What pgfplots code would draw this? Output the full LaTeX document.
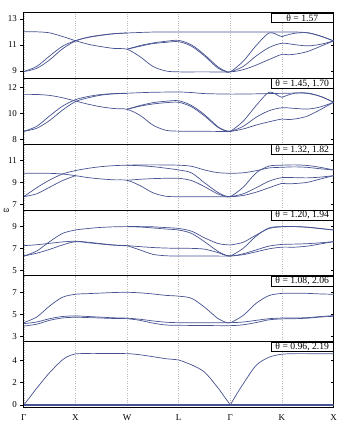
\documentclass[border=0pt]{standalone}
\usepackage{fontspec}
\setmainfont{Liberation Serif}
\usepackage{pgfplots}
\pgfplotsset{compat=1.18}
\usepgfplotslibrary{groupplots}
\usetikzlibrary{calc}
\definecolor{band}{RGB}{70,82,145}
\tikzset{tbox/.style={draw, line width=0.6bp, fill=white, anchor=north east, minimum width=62bp, minimum height=9.8bp, inner sep=0pt, font=\fontsize{9.7}{10}\selectfont}}
\begin{document}
\begin{tikzpicture}
\begin{groupplot}[
  group style={group size=1 by 6, vertical sep=0pt, xticklabels at=edge bottom},
  width=309.8bp, height=65.8bp, scale only axis,
  xmin=0, xmax=6, xtick={0,...,6},
  xticklabels={Γ,X,W,L,Γ,K,X},
  xmajorgrids, grid style={dotted, gray!55, line width=0.4bp},
  axis line style={line width=0.8bp},
  tick align=outside,
  ytick pos=left,
  xtick style={draw=none},
  ytick style={line width=0.5bp, black},
  major tick length=3.5bp,
  tick label style={font=\fontsize{9}{10}\selectfont},
  /pgf/number format/assume math mode=true,
  cycle list={{draw=band, line width=0.7bp, smooth, mark=none}},
  every axis plot post/.append style={draw=band, line width=0.7bp, smooth, mark=none},
  extra y tick labels={},
  extra y tick style={ytick pos=right, tick align=inside, major tick length=3bp},
]
% ---------- panel 1
\nextgroupplot[ymin=8.42, ymax=13.48, ytick={9,11,13}, extra y ticks={9,11,13}]
\coordinate (tl) at (rel axis cs:0,1);
\addplot coordinates {(0,12.02)(0.25,12.01)(0.5,11.93)(0.75,11.65)(1,11.33)(1.25,11.05)(1.5,10.87)(1.75,10.73)(2,10.67)(2.25,10.1)(2.5,9.35)(2.75,9.0)(3,8.93)(3.5,8.93)(4,8.93)(4.25,9.1)(4.5,9.45)(4.75,9.88)(5,10.28)(5.12,10.24)(5.3,10.32)(5.5,10.5)(5.75,10.9)(6,11.31)};
\addplot coordinates {(0,8.95)(0.25,9.35)(0.5,10.15)(0.75,10.9)(1,11.33)(1.25,11.58)(1.5,11.74)(1.75,11.86)(2,11.92)(2.5,11.99)(3,12.0)(3.5,12.0)(4,12.0)(4.5,12.0)(5,12.0)(5.3,11.99)(5.5,11.93)(5.75,11.68)(6,11.31)};
\addplot coordinates {(0,8.95)(0.25,9.2)(0.5,9.85)(0.75,10.7)(1,11.3)(1.25,11.6)(1.5,11.76)(1.75,11.87)(2,11.92)};
\addplot coordinates {(2,10.67)(2.25,10.95)(2.5,11.15)(2.75,11.28)(3,11.35)(3.25,11.0)(3.5,10.25)(3.75,9.35)(3.9,9.0)(4,8.93)(4.25,9.35)(4.5,10.15)(4.75,10.8)(5,11.13)(5.25,11.02)(5.5,10.93)(5.75,11.05)(6,11.31)};
\addplot coordinates {(2,10.67)(2.25,10.9)(2.5,11.1)(2.75,11.2)(3,11.25)(3.25,10.9)(3.5,10.15)(3.75,9.25)(3.9,8.97)(4,8.93)(4.25,9.75)(4.5,10.95)(4.75,11.92)(4.95,11.71)(5,11.64)(5.05,11.71)(5.25,11.9)(5.5,11.94)(5.75,11.68)(6,11.31)};
\node[tbox] at (rel axis cs:1,1) {θ = 1.57};
% ---------- panel 2
\nextgroupplot[ymin=7.62, ymax=12.68, ytick={8,10,12}, extra y ticks={8,10,12}]
\addplot coordinates {(0,11.46)(0.25,11.45)(0.5,11.38)(0.75,11.2)(1,10.95)(1.25,10.7)(1.5,10.5)(1.75,10.37)(2,10.31)(2.25,9.85)(2.5,9.1)(2.75,8.7)(3,8.63)(3.5,8.62)(4,8.62)(4.25,8.8)(4.5,9.1)(4.75,9.35)(5,9.56)(5.12,9.52)(5.3,9.6)(5.5,9.8)(5.75,10.3)(6,10.85)};
\addplot coordinates {(0,8.62)(0.25,9.0)(0.5,9.8)(0.75,10.55)(1,11.05)(1.25,11.3)(1.5,11.45)(1.75,11.52)(2,11.55)(2.5,11.62)(3,11.64)(3.25,11.6)(3.5,11.52)(4,11.48)(4.5,11.5)(5,11.54)(5.3,11.56)(5.5,11.53)(5.75,11.3)(6,10.85)};
\addplot coordinates {(0,8.62)(0.25,8.85)(0.5,9.45)(0.75,10.25)(1,10.9)(1.25,11.2)(1.5,11.4)(1.75,11.5)(2,11.54)};
\addplot coordinates {(2,10.31)(2.25,10.6)(2.5,10.82)(2.75,10.93)(3,10.97)(3.25,10.6)(3.5,9.9)(3.75,9.0)(3.9,8.68)(4,8.62)(4.25,9.0)(4.5,9.7)(4.75,10.2)(5,10.43)(5.25,10.38)(5.5,10.33)(5.75,10.5)(6,10.85)};
\addplot coordinates {(2,10.31)(2.25,10.55)(2.5,10.72)(2.75,10.82)(3,10.85)(3.25,10.5)(3.5,9.8)(3.75,8.95)(3.9,8.66)(4,8.62)(4.25,9.4)(4.5,10.6)(4.75,11.62)(4.95,11.31)(5,11.23)(5.05,11.31)(5.25,11.55)(5.5,11.56)(5.75,11.3)(6,10.85)};
\node[tbox] at (rel axis cs:1,1) {θ = 1.45, 1.70};
% ---------- panel 3
\nextgroupplot[ymin=6.47, ymax=12.45, ytick={7,9,11}, extra y ticks={7,9,11}]
\addplot coordinates {(0,9.82)(0.25,9.82)(0.5,9.81)(0.75,9.75)(1,9.6)(1.25,9.42)(1.5,9.3)(1.75,9.22)(2,9.18)(2.25,8.7)(2.5,8.05)(2.75,7.73)(3,7.69)(3.5,7.69)(4,7.69)(4.25,7.8)(4.5,8.1)(4.75,8.5)(5,8.9)(5.12,8.86)(5.3,8.9)(5.5,9.0)(5.75,9.3)(6,9.6)};
\addplot coordinates {(0,7.69)(0.25,8.5)(0.5,9.2)(0.75,9.75)(1,10.06)(1.25,10.27)(1.5,10.42)(1.75,10.51)(2,10.55)(2.5,10.58)(3,10.55)(3.25,10.45)(3.5,10.12)(3.75,9.88)(4,9.82)(4.25,9.86)(4.5,10.05)(4.75,10.3)(5,10.36)(5.25,10.4)(5.5,10.35)(5.75,10.22)(6,10.12)};
\addplot coordinates {(0,7.69)(0.25,7.95)(0.5,8.55)(0.75,9.15)(1,9.6)};
\addplot coordinates {(2,9.18)(2.25,9.27)(2.5,9.33)(2.75,9.36)(3,9.36)(3.25,9.15)(3.5,8.6)(3.75,7.95)(3.9,7.74)(4,7.69)(4.25,7.95)(4.5,8.5)(4.75,9.1)(5,9.42)(5.25,9.42)(5.5,9.4)(5.75,9.47)(6,9.6)};
\addplot coordinates {(2,10.55)(2.25,10.5)(2.5,10.42)(2.75,10.28)(3,10.12)(3.25,9.85)(3.5,8.95)(3.75,8.1)(3.9,7.76)(4,7.69)(4.25,8.55)(4.5,9.85)(4.75,10.47)(5,10.55)(5.25,10.58)(5.5,10.52)(5.75,10.35)(6,10.12)};
\node[tbox] at (rel axis cs:1,1) {θ = 1.32, 1.82};
% ---------- panel 4
\nextgroupplot[ymin=4.49, ymax=10.47, ytick={5,7,9}, extra y ticks={5,7,9}]
\addplot coordinates {(0,7.24)(0.25,7.32)(0.5,7.45)(0.75,7.58)(1,7.64)(1.25,7.55)(1.5,7.42)(1.75,7.3)(2,7.24)(2.25,7.15)(2.5,7.07)(2.75,7.02)(3,7.0)(3.25,6.99)(3.5,6.92)(3.75,6.62)(3.9,6.37)(4,6.3)(4.25,6.42)(4.5,6.68)(4.75,6.95)(5,7.1)(5.25,7.1)(5.5,7.2)(5.75,7.4)(6,7.6)};
\addplot coordinates {(0,6.3)(0.25,6.75)(0.5,7.6)(0.75,8.35)(1,8.66)(1.25,8.8)(1.5,8.9)(1.75,8.95)(2,8.97)(2.25,8.97)(2.5,8.95)(2.75,8.88)(3,8.8)(3.25,8.55)(3.5,7.95)(3.75,7.45)(3.9,7.33)(4,7.3)(4.25,7.55)(4.5,8.2)(4.75,8.8)(5,8.95)(5.25,8.97)(5.5,8.92)(5.75,8.8)(6,8.66)};
\addplot coordinates {(0,6.3)(0.25,6.55)(0.5,6.9)(0.75,7.3)(1,7.6)(1.25,7.5)(1.5,7.38)(1.75,7.28)(2,7.22)};
\addplot coordinates {(2,7.24)(2.25,6.85)(2.5,6.45)(2.75,6.32)(3,6.3)(3.5,6.3)(4,6.3)(4.25,6.5)(4.5,6.85)(4.75,7.2)(5,7.35)(5.25,7.38)(5.5,7.42)(5.75,7.5)(6,7.6)};
\addplot coordinates {(2,8.97)(2.25,8.93)(2.5,8.85)(2.75,8.75)(3,8.66)(3.25,8.35)(3.5,7.6)(3.75,6.75)(3.9,6.4)(4,6.3)(4.25,7.0)(4.5,8.1)(4.75,8.85)(5,8.97)(5.25,8.97)(5.5,8.9)(5.75,8.78)(6,8.66)};
\node[tbox] at (rel axis cs:1,1) {θ = 1.20, 1.94};
% ---------- panel 5
\nextgroupplot[ymin=2.51, ymax=8.49, ytick={3,5,7}, extra y ticks={3,5,7}]
\addplot coordinates {(0,4.24)(0.25,4.75)(0.5,5.75)(0.75,6.55)(1,6.82)(1.25,6.88)(1.5,6.93)(1.75,6.98)(2,7.0)(2.25,6.95)(2.5,6.85)(2.75,6.72)(3,6.65)(3.25,6.45)(3.5,5.65)(3.75,4.65)(3.9,4.3)(4,4.24)(4.25,4.9)(4.5,6.0)(4.75,6.7)(5,6.9)(5.25,6.92)(5.5,6.9)(5.75,6.85)(6,6.82)};
\addplot coordinates {(0,4.15)(0.25,4.3)(0.5,4.6)(0.75,4.8)(1,4.85)(1.25,4.8)(1.5,4.74)(1.75,4.68)(2,4.65)(2.25,4.55)(2.5,4.4)(2.75,4.28)(3,4.24)(3.5,4.24)(4,4.24)(4.25,4.3)(4.5,4.45)(4.75,4.6)(5,4.66)(5.25,4.66)(5.5,4.7)(5.75,4.8)(6,4.88)};
\addplot coordinates {(0,3.93)(0.25,4.1)(0.5,4.45)(0.75,4.67)(1,4.73)(1.25,4.7)(1.5,4.66)(1.75,4.62)(2,4.6)(2.25,4.45)(2.5,4.2)(2.75,4.03)(3,4.0)(3.5,3.98)(4,3.97)(4.25,4.05)(4.5,4.25)(4.75,4.5)(5,4.58)(5.25,4.6)(5.5,4.65)(5.75,4.75)(6,4.82)};
\node[tbox] at (rel axis cs:1,1) {θ = 1.08, 2.06};
% ---------- panel 6
\nextgroupplot[ymin=-0.22, ymax=5.67, ytick={0,2,4}, extra y ticks={0,2,4}]
\coordinate (bl) at (rel axis cs:0,0);
\coordinate (br) at (rel axis cs:1,0);
\addplot coordinates {(0,0)(6,0)};
\addplot coordinates {(0,0.09)(6,0.09)};
\addplot coordinates {(0,0)(0.1,0.6)(0.25,1.5)(0.5,2.9)(0.75,4.05)(0.9,4.45)(1,4.58)(1.25,4.62)(1.5,4.62)(2,4.6)(2.25,4.5)(2.5,4.33)(2.75,4.15)(3,4.03)(3.15,3.78)(3.25,3.6)(3.5,2.95)(3.75,1.6)(3.9,0.65)(4,0)};
\addplot coordinates {(4,0)(4.1,0.8)(4.25,1.9)(4.5,3.55)(4.75,4.28)(5,4.55)(5.25,4.6)(5.5,4.6)(6,4.6)};
\node[tbox] at (rel axis cs:1,1) {θ = 0.96, 2.19};
\end{groupplot}
\path (tl) ++(-23.5bp,12.7bp) coordinate (A);
\path (br) ++(5.7bp,-31.5bp) coordinate (B);
\path (A) rectangle (B);
\node[font=\fontsize{9}{10}\selectfont] at ($(tl)!0.5!(bl)+(-17.5bp,0)$) {ω};
\end{tikzpicture}
\end{document}
